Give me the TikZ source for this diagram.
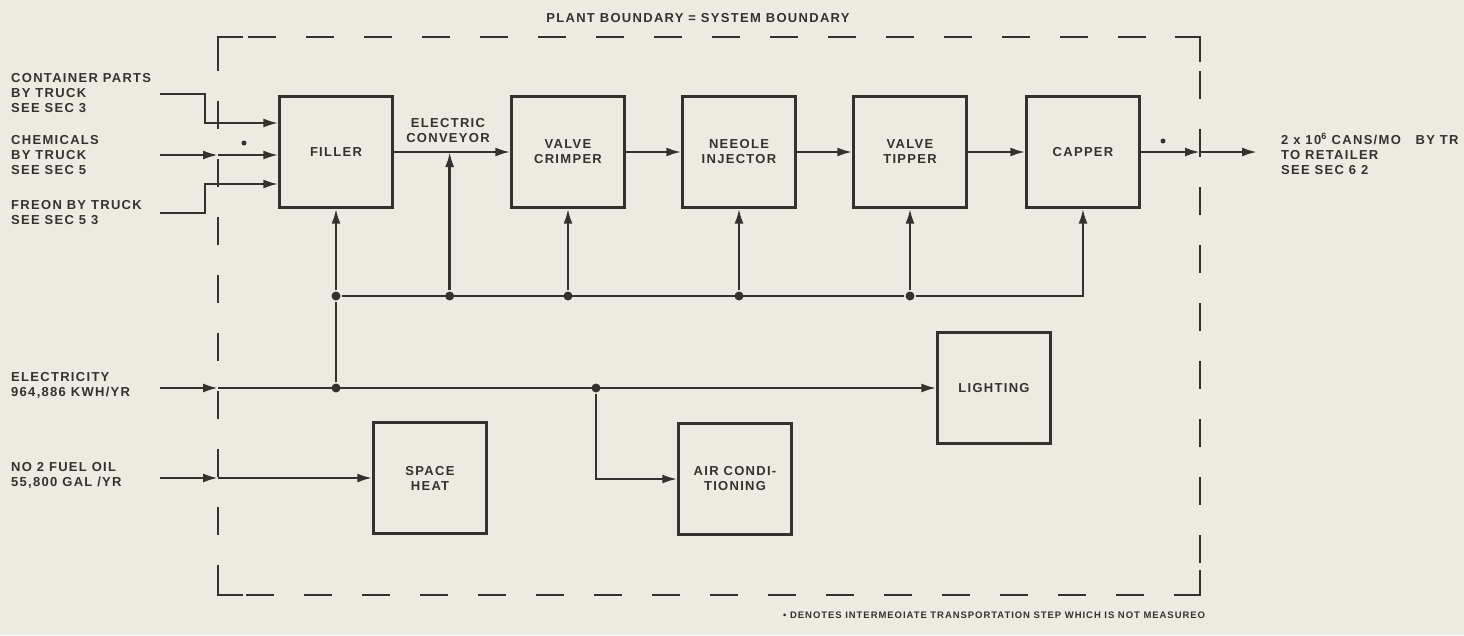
\documentclass[tikz,border=0pt]{standalone}
\usepackage{fontspec}
\setmainfont{Liberation Sans}[LetterSpace=10]
\usepackage{tikz}
\usetikzlibrary{arrows.meta, positioning, calc}
\definecolor{inkgray}{RGB}{52, 50, 46}
\definecolor{paperbg}{RGB}{237, 235, 225}
\newcommand{\lettering}{\fontsize{13}{15}\selectfont\bfseries}
\newcommand{\smalllettering}{\fontsize{9.5}{12}\selectfont\bfseries}

\begin{document}
\begin{tikzpicture}[x=1pt, y=-1pt, line width=2.4pt, color=inkgray,
    box/.style={draw, minimum width=113pt, minimum height=111pt, inner sep=2pt, align=center, font=\lettering},
    flow/.style={-{Latex[length=15pt,width=9pt]}},
    lbl/.style={anchor=west, align=left, font=\lettering, inner sep=0pt},
    jn/.style={circle, fill, inner sep=0pt, minimum size=9pt},
    tdot/.style={circle, fill, inner sep=0pt, minimum size=5pt}]

  \fill[paperbg] (0,0) rectangle (1464,635);
  \useasboundingbox (0,0) rectangle (1464,635);

  % plant boundary
  \draw[dash pattern=on 28pt off 30pt, dash phase=-30pt] (218,37) -- (1200,37) -- (1200,595) -- (218,595) -- cycle;
  \draw (218,62) -- (218,37) -- (243,37);
  \draw (1175,37) -- (1200,37) -- (1200,62);
  \draw (1200,570) -- (1200,595) -- (1175,595);
  \draw (243,595) -- (218,595) -- (218,570);
  \node[font=\lettering] (title) at (698,18) {PLANT BOUNDARY = SYSTEM BOUNDARY};

  % process line
  \node[box] (filler) at (336,152) {FILLER};
  \node[box] (crimper) at (568,152) {VALVE\\CRIMPER};
  \node[box] (needle) at (739,152) {NEEOLE\\INJECTOR};
  \node[box] (tipper) at (910,152) {VALVE\\TIPPER};
  \node[box] (capper) at (1083,152) {CAPPER};

  % energy users
  \node[box] (lighting) at (994,388) {LIGHTING};
  \node[box] (aircond) at (735,479) {AIR CONDI-\\TIONING};
  \node[box] (spaceheat) at (430,478) {SPACE\\HEAT};

  % inputs
  \coordinate (cpin) at (160,94);
  \coordinate (cpbend) at (205,123);
  \coordinate (chin) at (160,155);
  \coordinate (chb) at (218,155);
  \coordinate (frin) at (160,213);
  \coordinate (frbend) at (205,184);
  \coordinate (elin) at (160,388);
  \coordinate (elb) at (218,388);
  \coordinate (fuin) at (160,478);
  \coordinate (fub) at (218,478);
  \coordinate (busy) at (0,296);
  \coordinate (conv) at ($(filler.east)!0.48!(crimper.west)$);
  \coordinate (outb) at (1200,152);
  \coordinate (outend) at (1257,152);

  \node[lbl] (lcont) at (10,93) {CONTAINER PARTS\\BY TRUCK\\SEE SEC 3};
  \node[lbl] (lchem) at (10,155) {CHEMICALS\\BY TRUCK\\SEE SEC 5};
  \node[lbl] (lfreon) at (10,213) {FREON BY TRUCK\\SEE SEC 5 3};
  \node[lbl] (lelec) at (10,385) {ELECTRICITY\\964,886 KWH/YR};
  \node[lbl] (lfuel) at (10,475) {NO 2 FUEL OIL\\55,800 GAL /YR};
  \node[lbl] (lout) at (1280,154) {2 x 10\textsuperscript{6} CANS/MO\ \ \ BY TR\\TO RETAILER\\SEE SEC 6 2};
  \node[lbl, anchor=center, align=center] (lconv) at (448,131) {ELECTRIC\\CONVEYOR};

  \draw[flow] (cpin) -| (cpbend) -- (cpbend -| filler.west);
  \draw[flow] (chin) -- (chb);
  \draw[flow] (chb) -- (chb -| filler.west);
  \draw[flow] (frin) -| (frbend) -- (frbend -| filler.west);

  \draw[flow] (filler) -- (crimper);
  \draw[flow] (crimper) -- (needle);
  \draw[flow] (needle) -- (tipper);
  \draw[flow] (tipper) -- (capper);
  \draw[flow] (capper) -- (outb);
  \draw[flow] (outb) -- (outend);

  % electric bus
  \foreach \p [count=\i] in {filler.south, conv, crimper.south, needle.south, tipper.south}
    \node[jn] (bus\i) at (\p |- busy) {};
  \draw (bus1) -- (bus5);
  \draw[flow] (bus5) -| (capper.south);
  \draw[flow] (bus1) -- (filler.south);
  \draw[flow] (bus2) -- (conv);
  \draw[flow] (bus3) -- (crimper.south);
  \draw[flow] (bus4) -- (needle.south);
  \draw[flow] (bus5) -- (tipper.south);

  \node[jn] (el1) at (filler.south |- elb) {};
  \node[jn] (el2) at (596,388) {};
  \draw[flow] (elin) -- (elb);
  \draw[flow] (elb) -- (elb -| lighting.west);
  \draw (el1) -- (bus1);
  \draw[flow] (el2) |- (aircond.west);

  \draw[flow] (fuin) -- (fub);
  \draw[flow] (fub) -- (fub -| spaceheat.west);

  % transport steps
  \node[tdot] (td1) at (244,143) {};
  \node[tdot] (td2) at (1163,141) {};
  \node[lbl, font=\smalllettering] (note) at (782,615) {\textbullet\ DENOTES INTERMEOIATE TRANSPORTATION STEP WHICH IS NOT MEASUREO};
\end{tikzpicture}
\end{document}
